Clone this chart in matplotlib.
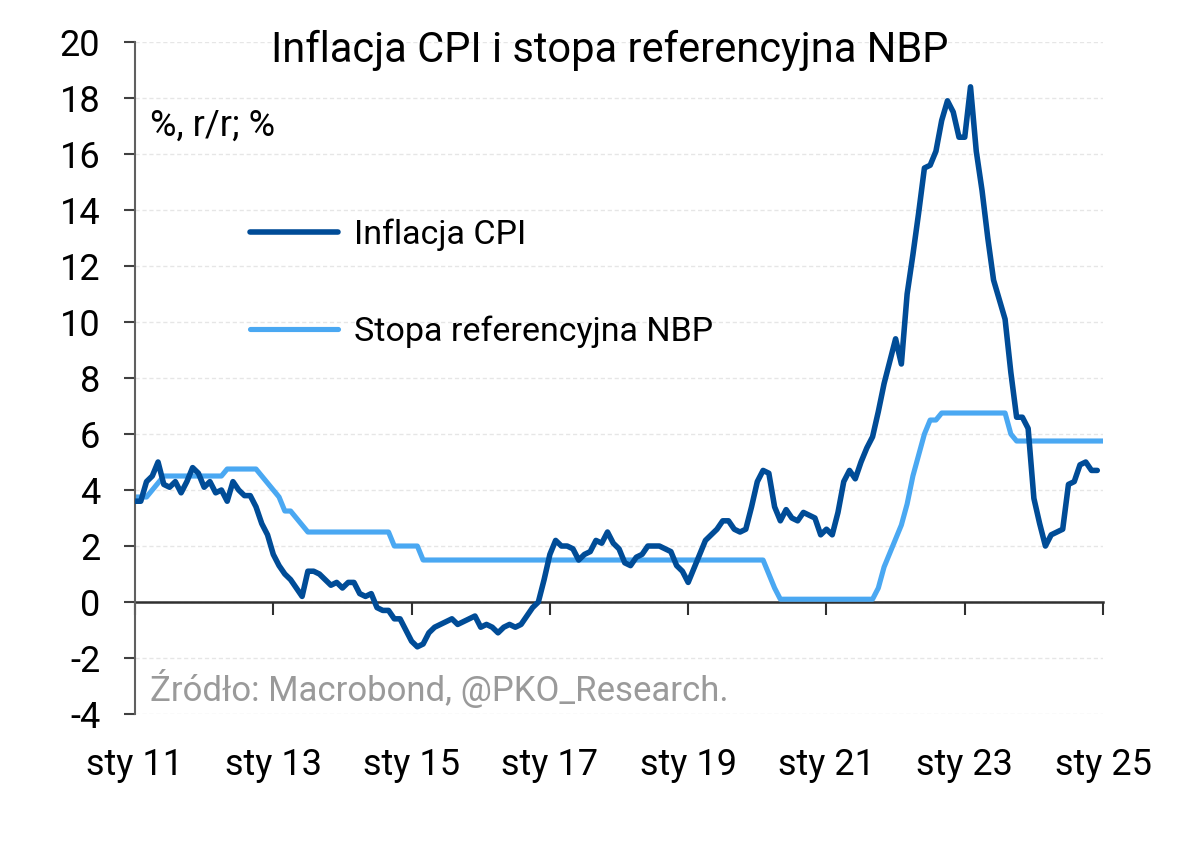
import numpy as np
import matplotlib
matplotlib.use("Agg")
import matplotlib.pyplot as plt

plt.rcParams['font.family'] = ['Roboto', 'DejaVu Sans']

# dane miesięczne od sty 2011
cpi = [3.6, 3.6, 4.3, 4.5, 5.0, 4.2, 4.1, 4.3, 3.9, 4.3, 4.8, 4.6,
       4.1, 4.3, 3.9, 4.0, 3.6, 4.3, 4.0, 3.8, 3.8, 3.4, 2.8, 2.4,
       1.7, 1.3, 1.0, 0.8, 0.5, 0.2, 1.1, 1.1, 1.0, 0.8, 0.6, 0.7,
       0.5, 0.7, 0.7, 0.3, 0.2, 0.3, -0.2, -0.3, -0.3, -0.6, -0.6, -1.0,
       -1.4, -1.6, -1.5, -1.1, -0.9, -0.8, -0.7, -0.6, -0.8, -0.7, -0.6, -0.5,
       -0.9, -0.8, -0.9, -1.1, -0.9, -0.8, -0.9, -0.8, -0.5, -0.2, 0.0, 0.8,
       1.7, 2.2, 2.0, 2.0, 1.9, 1.5, 1.7, 1.8, 2.2, 2.1, 2.5, 2.1,
       1.9, 1.4, 1.3, 1.6, 1.7, 2.0, 2.0, 2.0, 1.9, 1.8, 1.3, 1.1,
       0.7, 1.2, 1.7, 2.2, 2.4, 2.6, 2.9, 2.9, 2.6, 2.5, 2.6, 3.4,
       4.3, 4.7, 4.6, 3.4, 2.9, 3.3, 3.0, 2.9, 3.2, 3.1, 3.0, 2.4,
       2.6, 2.4, 3.2, 4.3, 4.7, 4.4, 5.0, 5.5, 5.9, 6.8, 7.8, 8.6,
       9.4, 8.5, 11.0, 12.4, 13.9, 15.5, 15.6, 16.1, 17.2, 17.9, 17.5, 16.6,
       16.6, 18.4, 16.1, 14.7, 13.0, 11.5, 10.8, 10.1, 8.2, 6.6, 6.6, 6.2,
       3.7, 2.8, 2.0, 2.4, 2.5, 2.6, 4.2, 4.3, 4.9, 5.0, 4.7, 4.7]

nbp = [3.75, 3.75, 3.75, 4.0, 4.25, 4.5, 4.5, 4.5, 4.5, 4.5, 4.5, 4.5,
       4.5, 4.5, 4.5, 4.5, 4.75, 4.75, 4.75, 4.75, 4.75, 4.75, 4.5, 4.25,
       4.0, 3.75, 3.25, 3.25, 3.0, 2.75, 2.5, 2.5, 2.5, 2.5, 2.5, 2.5,
       2.5, 2.5, 2.5, 2.5, 2.5, 2.5, 2.5, 2.5, 2.5, 2.0, 2.0, 2.0,
       2.0, 2.0] + [1.5] * 60 + \
      [1.0, 0.5, 0.1, 0.1, 0.1, 0.1, 0.1, 0.1, 0.1, 0.1,
       0.1, 0.1, 0.1, 0.1, 0.1, 0.1, 0.1, 0.1, 0.1, 0.5, 1.25, 1.75,
       2.25, 2.75, 3.5, 4.5, 5.25, 6.0, 6.5, 6.5, 6.75, 6.75, 6.75, 6.75,
       6.75, 6.75, 6.75, 6.75, 6.75, 6.75, 6.75, 6.75, 6.0, 5.75, 5.75, 5.75,
       5.75, 5.75, 5.75, 5.75, 5.75, 5.75, 5.75, 5.75, 5.75, 5.75, 5.75, 5.75,
       5.75]

tick_pos = [0, 24, 48, 72, 96, 120, 144, 168]
tick_labels = ['sty 11', 'sty 13', 'sty 15', 'sty 17', 'sty 19', 'sty 21', 'sty 23', 'sty 25']
y_ticks = np.arange(-4, 21, 2)

fig = plt.figure(figsize=(12, 8.47), dpi=100)
ax = fig.add_axes([0.1125, 0.157, 0.8067, 0.7934])

ax.plot(np.arange(len(cpi)), cpi, color='#004c97', lw=4.0, label='Inflacja CPI',
        solid_joinstyle='round', solid_capstyle='round', zorder=3)
ax.plot(np.arange(len(nbp)), nbp, color='#4aa8f2', lw=3.7, label='Stopa referencyjna NBP',
        solid_joinstyle='round', solid_capstyle='round', zorder=2)

ax.set_xlim(0, 168)
ax.set_ylim(-4, 20)
ax.set_yticks(y_ticks)
ax.set_yticklabels([str(v) for v in y_ticks])
ax.tick_params(axis='y', direction='out', length=8, width=1.5, color='#404040',
               labelsize=26, pad=17)
for v in y_ticks:
    ax.axhline(v, color='#e6e6e6', lw=1, ls=(0, (3, 2)), zorder=0)

# etykiety osi X na dole, oś z kreskami przy zerze
ax.set_xticks(tick_pos)
ax.set_xticklabels(tick_labels)
ax.tick_params(axis='x', length=0, labelsize=26, pad=24)
for s in ['top', 'right', 'bottom']:
    ax.spines[s].set_visible(False)
ax.spines['left'].set_color('#606060')
ax.spines['left'].set_linewidth(1.5)

zero_loc = (0 - ax.get_ylim()[0]) / (ax.get_ylim()[1] - ax.get_ylim()[0])
sec = ax.secondary_xaxis(zero_loc)
sec.set_xticks(tick_pos)
sec.set_xticklabels([])
sec.tick_params(direction='out', length=9, width=1.5, color='#303030')
sec.spines['bottom'].set_color('#303030')
sec.spines['bottom'].set_linewidth(1.8)

ax.text(0.49, 0.988, 'Inflacja CPI i stopa referencyjna NBP', transform=ax.transAxes,
        ha='center', va='center', fontsize=30)
ax.text(0.016, 17.0, '%, r/r; %', fontsize=26, ha='left', va='center',
        transform=ax.get_yaxis_transform())
ax.text(0.016, -3.1, 'Źródło: Macrobond, @PKO_Research.', fontsize=25, color='#9a9a9a',
        ha='left', va='center', transform=ax.get_yaxis_transform())

ax.legend(loc='upper left', bbox_to_anchor=(0.101, 0.763), frameon=False, fontsize=24.5,
          handlelength=2.6, handletextpad=0.45, labelspacing=1.9, borderpad=0)

fig.savefig('out.png', dpi=100, facecolor='white')
